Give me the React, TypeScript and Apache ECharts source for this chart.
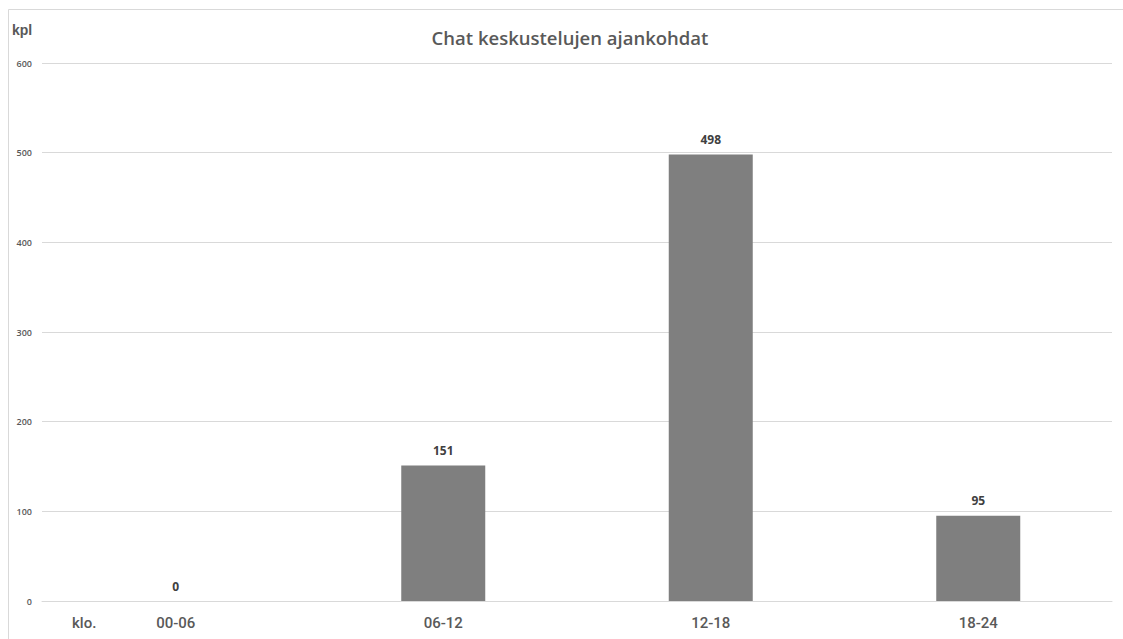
import React, { useEffect, useRef } from "react";
import * as echarts from "echarts";

const categories = ["00-06", "06-12", "12-18", "18-24"];
const counts = [0, 151, 498, 95];
const yMax = 600;
const yStep = 100;

export default function App() {
  const ref = useRef<HTMLDivElement>(null);

  useEffect(() => {
    if (!ref.current) return;
    const chart = echarts.init(ref.current, null, { renderer: "svg" });
    chart.setOption({
      animation: false,
      backgroundColor: "#ffffff",
      title: {
        text: "Chat keskustelujen ajankohdat",
        left: 565,
        top: 23,
        textAlign: "center",
        textStyle: {
          fontFamily: "Open Sans",
          fontSize: 18.5,
          fontWeight: 600,
          color: "#595959",
        },
      },
      graphic: [
        {
          type: "rect",
          shape: { x: 8.5, y: 9.5, width: 1130, height: 640 },
          style: { fill: "none", stroke: "#d9d9d9", lineWidth: 1 },
          silent: true,
        },
        {
          type: "text",
          left: 12,
          top: 23,
          style: {
            text: "kpl",
            fontFamily: "Liberation Sans",
            fontSize: 14,
            fontWeight: "bold",
            fill: "#595959",
          },
        },
        {
          type: "text",
          left: 72,
          top: 615,
          style: {
            text: "klo.",
            fontFamily: "Roboto",
            fontSize: 15,
            fontWeight: 500,
            fill: "#595959",
          },
        },
      ],
      grid: { left: 42, right: 11, top: 63, bottom: 38, containLabel: false },
      xAxis: {
        type: "category",
        data: categories,
        axisLine: { show: true, lineStyle: { color: "#d9d9d9" } },
        axisTick: { show: false },
        axisLabel: {
          margin: 14,
          fontFamily: "Roboto",
          fontSize: 15,
          fontWeight: 500,
          color: "#595959",
        },
      },
      yAxis: {
        type: "value",
        min: 0,
        max: yMax,
        interval: yStep,
        axisLine: { show: false },
        axisTick: { show: false },
        splitLine: { lineStyle: { color: "#d9d9d9", width: 1 } },
        axisLabel: {
          margin: 10,
          fontFamily: "Open Sans",
          fontSize: 9,
          fontWeight: 600,
          color: "#595959",
        },
      },
      series: [
        {
          type: "bar",
          data: counts,
          barWidth: 84,
          itemStyle: { color: "#7f7f7f" },
          label: {
            show: true,
            position: "top",
            distance: 9,
            fontFamily: "Open Sans",
            fontSize: 12,
            fontWeight: "bold",
            color: "#404040",
          },
        },
      ],
    });
    return () => chart.dispose();
  }, []);

  return (
    <div
      ref={ref}
      style={{ position: "absolute", left: 0, top: 0, width: 1123, height: 639 }}
    />
  );
}
